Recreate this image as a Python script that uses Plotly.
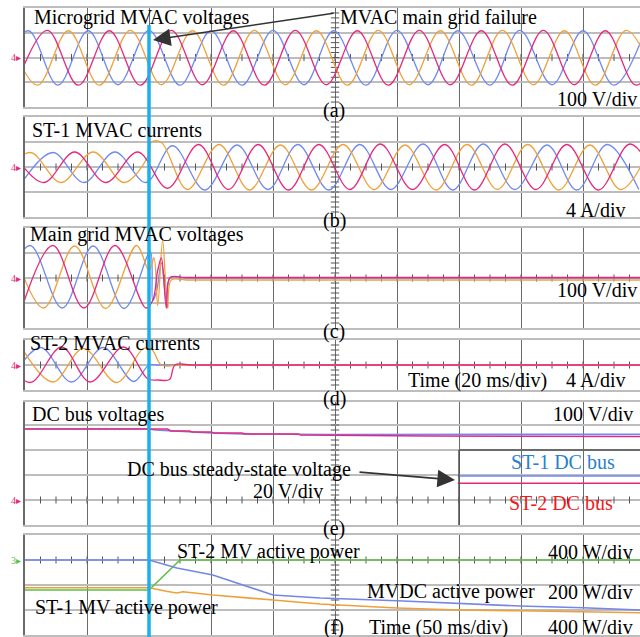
import numpy as np
import plotly.graph_objects as go

W, H = 640, 637
FONT = "Liberation Serif"

# ---------------- colours ----------------
C_BLUE = "#7089F2"
C_PINK = "#E6287C"
C_ORANGE = "#EFA03A"
C_GREEN = "#5DBE45"
C_CYAN = "#18B0EA"
C_GRID_H = "#BDBDBD"
C_GRID_V = "#6A6A6A"

# ---------------- data (time in divisions, value in divisions) ----------------
# (a) Microgrid MVAC voltages - successive extrema of each phase
a_blue_t = [-0.47, 0.05, 0.53, 1.02, 1.5, 2.0, 2.5, 3.0, 3.5, 4.0, 4.5, 4.98, 5.5, 6.0, 6.5, 6.98, 7.5, 7.98, 8.5, 9.0, 9.5, 10.0]
a_blue_v = [-1.12, 1.08, -1.12, 1.08, -1.1, 1.1, -1.12, 1.08, -1.12, 1.1, -1.1, 1.08, -1.12, 1.1, -1.1, 1.08, -1.12, 1.1, -1.1, 1.08, -1.12, 1.08]
a_pink_t = [-0.14, 0.36, 0.86, 1.36, 1.86, 2.36, 2.86, 3.36, 3.86, 4.36, 4.86, 5.36, 5.86, 6.36, 6.86, 7.36, 7.86, 8.36, 8.86, 9.36, 9.86, 10.36]
a_pink_v = [-1.1, 1.1, -1.12, 1.08, -1.12, 1.1, -1.1, 1.08, -1.12, 1.1, -1.1, 1.08, -1.12, 1.1, -1.1, 1.08, -1.12, 1.1, -1.1, 1.08, -1.12, 1.1]
a_orange_t = [-0.3, 0.2, 0.7, 1.2, 1.7, 2.2, 2.7, 3.2, 3.7, 4.2, 4.7, 5.2, 5.7, 6.2, 6.7, 7.2, 7.7, 8.2, 8.7, 9.2, 9.7, 10.2]
a_orange_v = [1.1, -1.12, 1.08, -1.12, 1.1, -1.1, 1.08, -1.12, 1.1, -1.1, 1.08, -1.12, 1.1, -1.1, 1.08, -1.12, 1.1, -1.1, 1.08, -1.12, 1.1, -1.1]

# (b) ST-1 MVAC currents
b_orange_t = [-0.42, 0.08, 0.58, 1.1, 1.6, 1.98, 2.04, 2.2, 2.62, 3.13, 3.62, 4.12, 4.62, 5.13, 5.63, 6.13, 6.63, 7.13, 7.62, 8.11, 8.61, 9.11, 9.61, 10.11]
b_orange_v = [-0.62, 0.58, -0.62, 0.6, -0.62, 0.4, 1.0, 0.98, -0.9, 0.9, -0.92, 0.88, -0.92, 0.9, -0.9, 0.88, -0.92, 0.9, -0.9, 0.9, -0.92, 0.88, -0.9, 0.9]
b_blue_t = [-0.05, 0.45, 0.95, 1.45, 1.95, 2.38, 2.9, 3.42, 3.92, 4.4, 4.9, 5.4, 5.9, 6.42, 6.9, 7.39, 7.9, 8.42, 8.9, 9.39, 9.9]
b_blue_v = [-0.62, 0.58, -0.62, 0.6, -0.62, 0.85, -0.92, 0.88, -0.9, 0.9, -0.92, 0.9, -0.9, 0.92, -0.92, 0.92, -0.9, 0.88, -0.92, 0.9, -0.9]
b_pink_t = [-0.2, 0.3, 0.8, 1.3, 1.82, 2.3, 2.8, 3.28, 3.76, 4.25, 4.74, 5.24, 5.73, 6.25, 6.77, 7.25, 7.74, 8.24, 8.74, 9.25, 9.76, 10.26]
b_pink_v = [0.6, -0.62, 0.6, -0.62, 0.6, -0.85, 0.9, -0.9, 0.9, -0.92, 0.9, -0.9, 0.92, -0.9, 0.9, -0.92, 0.92, -0.9, 0.9, -0.92, 0.92, -0.9]

# (c) Main grid MVAC voltages
c_blue_t = [-0.42, 0.08, 0.6, 1.1, 1.6, 2.02, 2.06, 2.12, 2.2, 2.28, 2.34, 2.6, 9.92]
c_blue_v = [-1.2, 1.3, -1.2, 1.28, -1.22, 1.05, -0.9, -0.55, 0.6, -0.9, 0.0, 0.0, 0.0]
c_pink_t = [-0.05, 0.45, 0.95, 1.45, 1.95, 2.06, 2.14, 2.2, 2.28, 2.34, 2.6, 9.92]
c_pink_v = [-1.2, 1.3, -1.2, 1.3, -1.2, -0.9, 0.3, 0.8, -1.2, 0.02, 0.02, 0.02]
c_orange_t = [-0.2, 0.3, 0.8, 1.3, 1.8, 2.0, 2.08, 2.14, 2.22, 2.3, 2.36, 2.6, 9.92]
c_orange_v = [1.28, -1.2, 1.28, -1.22, 1.3, 0.3, 0.8, -1.1, 1.5, -1.2, -0.08, -0.08, -0.08]

# (d) ST-2 MVAC currents
d_blue_t = [-0.25, 0.25, 0.75, 1.26, 1.75, 2.0, 2.12, 9.92]
d_blue_v = [-0.68, 0.7, -0.68, 0.7, -0.66, 0.0, 0.0, 0.0]
d_pink_t = [-0.42, 0.08, 0.59, 1.05, 1.59, 1.98, 2.15, 2.33, 2.42, 2.7, 9.92]
d_pink_v = [0.7, -0.7, 0.72, -0.68, 0.72, -0.55, -0.6, -0.58, 0.0, 0.0, 0.0]
d_orange_t = [-0.05, 0.45, 0.94, 1.48, 1.91, 2.05, 2.2, 2.5, 9.92]
d_orange_v = [0.68, -0.68, 0.66, -0.7, 0.66, 0.6, 0.0, 0.0, 0.0]

# (e) DC bus voltages
e_blue_t = [0, 2.0, 2.1, 2.35, 3.0, 3.5, 4.4, 5.0, 9.92]
e_blue_v = [2.84, 2.84, 2.8, 2.76, 2.68, 2.64, 2.62, 2.62, 2.63]
e_pink_t = [0, 2.0, 2.3, 2.35, 2.65, 2.7, 3.0, 3.05, 3.5, 3.55, 4.4, 4.45, 6.5, 9.92]
e_pink_v = [2.84, 2.84, 2.84, 2.76, 2.76, 2.72, 2.72, 2.68, 2.68, 2.64, 2.64, 2.6, 2.56, 2.54]
e_inset_t = [6.98, 9.92]
e_inset_blue_v = [0.96, 0.96]
e_inset_pink_v = [0.67, 0.67]

# (f) active powers
f_blue_t = [0, 2.0, 2.45, 3.03, 4.0, 4.76, 6.0, 7.98, 9.0, 9.92]
f_blue_v = [0, 0, -0.32, -0.6, -1.4, -1.52, -1.63, -1.84, -1.91, -2.0]
f_orange_t = [0, 2.0, 2.3, 2.45, 2.55, 3.03, 4.0, 4.76, 6.0, 7.0, 7.98, 9.0, 9.92]
f_orange_v = [-1.11, -1.11, -1.26, -1.32, -1.27, -1.4, -1.6, -1.76, -1.92, -2.0, -2.03, -2.07, -2.11]
f_green_t = [0, 2.0, 2.5, 9.92]
f_green_v = [-1.2, -1.2, 0.0, 0.0]

FAILURE_T = 2.0

# ---------------- layout geometry ----------------
X_LEFT_PX = 25
DIV_PX = 62
X_MAX = (W - X_LEFT_PX) / DIV_PX
panels = [  # top px, bottom px, ymin, ymax
    (8, 107, -2, 2),
    (117, 217, -2, 2),
    (228, 328, -2, 2),
    (340, 390, -1, 1),
    (402, 525, -1, 3.92),
    (535, 635, -3, 1),
]

fig = go.Figure()
layout = dict(width=W, height=H, margin=dict(l=0, r=0, t=0, b=0),
              paper_bgcolor="white", plot_bgcolor="white", showlegend=False)

for i, (top, bot, ymin, ymax) in enumerate(panels, start=1):
    s = "" if i == 1 else str(i)
    layout["xaxis" + s] = dict(domain=[X_LEFT_PX / W, 1], range=[0, X_MAX], anchor="y" + s,
                               dtick=1, tick0=0, showgrid=True, gridcolor=C_GRID_V, gridwidth=1.2,
                               showticklabels=False, ticks="", zeroline=False,
                               showline=True, mirror=True, linecolor=C_GRID_H, linewidth=2)
    layout["yaxis" + s] = dict(domain=[1 - bot / H, 1 - top / H], range=[ymin, ymax], anchor="x" + s,
                               dtick=1, tick0=0, showgrid=True, gridcolor=C_GRID_H, gridwidth=2,
                               showticklabels=False, ticks="", zeroline=False,
                               showline=True, mirror=False, linecolor=C_GRID_V, linewidth=1.5)
    # graticule tick marks (centre lines)
    xt = np.arange(0.25, X_MAX, 0.25)
    fig.add_trace(go.Scatter(x=xt, y=[0] * len(xt),
                             mode="markers", xaxis="x" + s, yaxis="y" + s, hoverinfo="skip",
                             marker=dict(symbol="line-ns", size=5, line=dict(width=1, color="#555"))))
    yt = np.arange(ymin + 0.2, ymax, 0.2)
    fig.add_trace(go.Scatter(x=[5] * len(yt), y=yt, mode="markers", xaxis="x" + s, yaxis="y" + s,
                             hoverinfo="skip",
                             marker=dict(symbol="line-ew", size=6, line=dict(width=1, color="#555"))))


def wave(t, v, color, ax, shape="spline", width=1.3):
    fig.add_trace(go.Scatter(x=t, y=v, mode="lines", xaxis="x" + ax, yaxis="y" + ax,
                             line=dict(color=color, width=width, shape=shape, smoothing=1.0),
                             hoverinfo="skip"))


wave(a_blue_t, a_blue_v, C_BLUE, "")
wave(a_orange_t, a_orange_v, C_ORANGE, "")
wave(a_pink_t, a_pink_v, C_PINK, "")

wave(b_blue_t, b_blue_v, C_BLUE, "2")
wave(b_orange_t, b_orange_v, C_ORANGE, "2")
wave(b_pink_t, b_pink_v, C_PINK, "2")

wave(c_blue_t, c_blue_v, C_BLUE, "3")
wave(c_orange_t, c_orange_v, C_ORANGE, "3")
wave(c_pink_t, c_pink_v, C_PINK, "3")

wave(d_blue_t, d_blue_v, C_BLUE, "4")
wave(d_orange_t, d_orange_v, C_ORANGE, "4")
wave(d_pink_t, d_pink_v, C_PINK, "4")

wave(e_blue_t, e_blue_v, C_BLUE, "5", shape="linear", width=1.6)
wave(e_pink_t, e_pink_v, C_PINK, "5", shape="linear", width=1.6)
wave(e_inset_t, e_inset_blue_v, C_BLUE, "5", shape="linear", width=1.6)
wave(e_inset_t, e_inset_pink_v, C_PINK, "5", shape="linear", width=1.6)

wave(f_green_t, f_green_v, C_GREEN, "6", shape="linear", width=1.6)
wave(f_orange_t, f_orange_v, C_ORANGE, "6", shape="linear", width=1.6)
wave(f_blue_t, f_blue_v, "#7486E8", "6", shape="linear", width=1.6)

fig.update_layout(**layout)


def px_x(x):
    return x / W


def px_y(y):
    return 1 - y / H


def txt(s, x, y, anchor="left", color="black", size=20):
    return dict(text=s, xref="paper", yref="paper", x=px_x(x), y=px_y(y), xanchor=anchor,
                yanchor="middle", showarrow=False, borderpad=0,
                font=dict(family=FONT, size=size, color=color))


ann = [
    txt("Microgrid MVAC voltages", 33, 18),
    txt("MVAC main grid failure", 339, 18),
    txt("100 V/div", 638, 99, "right"),
    txt("(a)", 334, 110, "center"),
    txt("ST-1 MVAC currents", 31, 130),
    txt("4 A/div", 626, 210, "right"),
    txt("(b)", 334, 221, "center"),
    txt("Main grid MVAC voltages", 29, 235),
    txt("100 V/div", 638, 290, "right"),
    txt("(c)", 334, 331, "center"),
    txt("ST-2 MVAC currents", 29, 343),
    txt("Time (20 ms/div)", 407, 380),
    txt("4 A/div", 626, 380, "right"),
    txt("(d)", 334, 398, "center"),
    txt("DC bus voltages", 31, 414),
    txt("100 V/div", 634, 414, "right"),
    txt("DC bus steady-state voltage", 126, 470),
    txt("20 V/div", 324, 491, "right"),
    txt("ST-1 DC bus", 563, 462, "center", "#2A7FD0"),
    txt("ST-2 DC bus", 561, 503, "center", "#F01A1A"),
    txt("(e)", 334, 528, "center"),
    txt("ST-2 MV active power", 176, 551),
    txt("400 W/div", 634, 552, "right"),
    txt("MVDC active power", 366, 591),
    txt("200 W/div", 634, 592, "right"),
    txt("ST-1 MV active power", 34, 607),
    txt("(f)", 334, 627, "center"),
    txt("Time (50 ms/div)", 368, 627),
    txt("400 W/div", 634, 627, "right"),
]
# channel markers
for (top, bot, ymin, ymax), col, lab in zip(panels, [C_PINK] * 5 + [C_GREEN], ["4"] * 5 + ["3"]):
    cy = top + (bot - top) * ymax / (ymax - ymin)
    ann.append(txt(lab + "\u25B8", 10, cy, "left", col, 10))

# arrows
ann.append(dict(text="", xref="paper", yref="paper", x=px_x(153), y=px_y(40), ax=182, ay=-27,
                showarrow=True, arrowhead=2, arrowsize=2.2, arrowwidth=1.6, arrowcolor="#333"))
ann.append(dict(text="", xref="paper", yref="paper", x=px_x(455), y=px_y(480), ax=-97, ay=-8,
                showarrow=True, arrowhead=2, arrowsize=2.2, arrowwidth=1.6, arrowcolor="#333"))

shapes = [
    dict(type="line", xref="x", yref="paper", x0=FAILURE_T, x1=FAILURE_T, y0=px_y(25), y1=0,
         line=dict(color=C_CYAN, width=3.5), layer="above"),
    dict(type="line", xref="x5", yref="y5", x0=7.0, x1=X_MAX, y0=2, y1=2,
         line=dict(color="#505050", width=1.5), layer="above"),
    dict(type="line", xref="x5", yref="y5", x0=7.0, x1=7.0, y0=2, y1=-1,
         line=dict(color="#505050", width=1.5), layer="above"),
]
fig.update_layout(annotations=ann, shapes=shapes)

fig.write_html("out.html", config={"displayModeBar": False},
               post_script="document.body.style.margin='0';document.body.style.overflow='hidden';")
